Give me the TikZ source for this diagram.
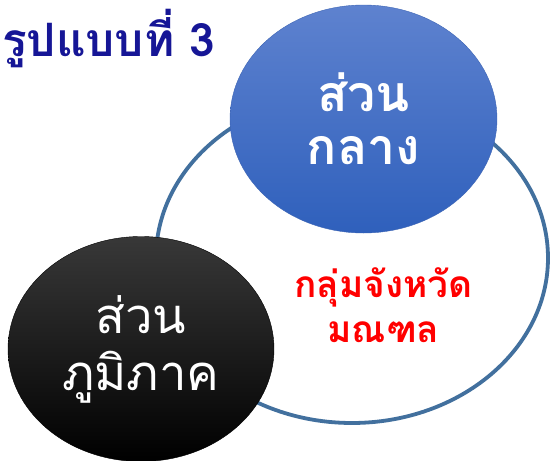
\documentclass[tikz,border=0pt]{standalone}
\usepackage{fontspec}
\newfontfamily\thaifont[Script=Thai]{Loma}
\usetikzlibrary{shapes.geometric}
\definecolor{titleblue}{RGB}{22,22,150}
\definecolor{ringblue}{RGB}{66,112,158}
\definecolor{centretop}{RGB}{94,130,207}
\definecolor{centrebot}{RGB}{47,96,188}
\definecolor{centreedge}{RGB}{60,100,180}

\begin{document}
\begin{tikzpicture}[x=1pt,y=-1pt,
  blob/.style={ellipse, inner sep=0pt, align=center, text=white},
  ring/.style={ellipse, draw=ringblue, line width=3.8pt, fill=white, inner sep=0pt}]
\useasboundingbox (0,0) rectangle (550,461);
\node[ring, minimum width=392pt, minimum height=330pt] (Group) at (352,258) {};
\node[blob, minimum width=267pt, minimum height=228pt, draw=centreedge, thin,
  top color=centretop, bottom color=centrebot,
  font=\thaifont\bfseries\fontsize{50}{53}\selectfont] (Centre) at (363.5,119) {ส่วน\\กลาง};
\node[blob, minimum width=266pt, minimum height=225pt, draw=black, thin,
  top color=black!78, bottom color=black,
  font=\thaifont\fontsize{49}{57}\selectfont] (Region) at (141,349) {ส่วน\\ภูมิภาค};
\node[align=center, text=red, font=\thaifont\bfseries\fontsize{37}{45}\selectfont] (Province) at (383.5,305) {กลุ่มจังหวัด\\มณฑล};
\node[anchor=base west, inner sep=0pt, text=titleblue, font=\thaifont\bfseries\fontsize{46}{46}\selectfont] (Title) at (2,56) {รูปแบบที่ 3};
\end{tikzpicture}
\end{document}
